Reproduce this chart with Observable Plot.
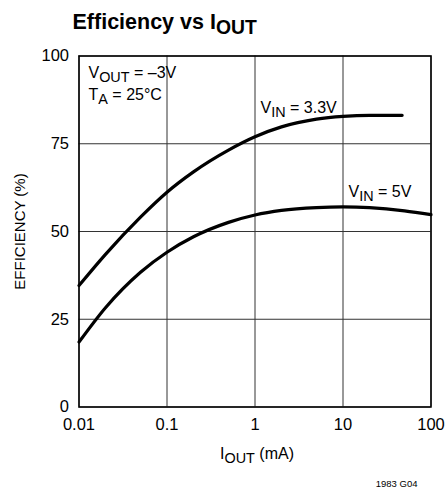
<!DOCTYPE html>
<html>
<head>
<meta charset="utf-8">
<script src="https://cdn.jsdelivr.net/npm/d3@7"></script>
<script src="https://cdn.jsdelivr.net/npm/@observablehq/plot@0.6"></script>
<style>
  html, body { margin: 0; padding: 0; background: white; }
</style>
</head>
<body>
<div id="chart"></div>
<script>
// ---- data ----
const ioutVin33 = [0.01, 0.02, 0.05, 0.1, 0.2, 0.5, 1, 2, 5, 10, 20, 47];
const effVin33  = [34.6, 43.5, 54.1, 61.2, 67.0, 73.2, 77.0, 79.8, 82.0, 82.8, 83.1, 83.1];
const ioutVin5  = [0.01, 0.02, 0.05, 0.1, 0.2, 0.5, 1, 2, 5, 10, 20, 50, 100];
const effVin5   = [18.5, 28.3, 38.4, 44.1, 48.5, 52.6, 54.7, 56.0, 56.8, 57.0, 56.8, 55.9, 54.8];
const seriesNames = ["V_{IN} = 3.3V", "V_{IN} = 5V"];
const xTicks = [0.01, 0.1, 1, 10, 100];
const xTickLabels = ["0.01", "0.1", "1", "10", "100"];
const yTicks = [0, 25, 50, 75, 100];
const titleText = "Efficiency vs I_{OUT}";
const xLabel = "I_{OUT} (mA)";
const yLabel = "EFFICIENCY (%)";
const noteLines = ["V_{OUT} = \u20133V", "T_{A} = 25\u00B0C"];
const caption = "1983 G04";

const rows = [
  ...ioutVin33.map((x, i) => ({series: seriesNames[0], x, y: effVin33[i]})),
  ...ioutVin5.map((x, i) => ({series: seriesNames[1], x, y: effVin5[i]}))
];

const FONT = '"Liberation Sans", Arial, Helvetica, sans-serif';

const chart = Plot.plot({
  width: 447,
  height: 488,
  marginLeft: 78.5,
  marginRight: 16.5,
  marginTop: 55.5,
  marginBottom: 81.5,
  x: {type: "log", domain: [0.01, 100]},
  y: {domain: [0, 100]},
  style: {fontFamily: FONT, fontSize: "16px", color: "black", background: "white", overflow: "visible"},
  marks: [
    Plot.gridX(xTicks, {stroke: "#333", strokeOpacity: 1, strokeWidth: 1}),
    Plot.gridY(yTicks, {stroke: "#333", strokeOpacity: 1, strokeWidth: 1}),
    Plot.frame({stroke: "black", strokeWidth: 1.5}),
    Plot.axisX(xTicks, {tickSize: 0, tickPadding: 11, tickFormat: d => xTickLabels[xTicks.indexOf(d)], label: null, fontSize: 16.5}),
    Plot.axisY(yTicks, {tickSize: 0, tickPadding: 10, label: null, fontSize: 16.5}),
    Plot.line(rows, {x: "x", y: "y", z: "series", curve: "monotone-x", stroke: "black", strokeWidth: 3.2}),
    // curve labels
    Plot.text([seriesNames[0]], {text: d => d, x: 1.155, y: 85.3, textAnchor: "start", lineAnchor: "middle", fontSize: 16}),
    Plot.text([seriesNames[1]], {text: d => d, x: 11.55, y: 61.4, textAnchor: "start", lineAnchor: "middle", fontSize: 16}),
    // conditions note
    Plot.text([noteLines[0]], {text: d => d, frameAnchor: "top-left", dx: 9.5, dy: 17, textAnchor: "start", lineAnchor: "middle", fontSize: 16}),
    Plot.text([noteLines[1]], {text: d => d, frameAnchor: "top-left", dx: 9.5, dy: 38.5, textAnchor: "start", lineAnchor: "middle", fontSize: 16}),
    // title
    Plot.text([titleText], {text: d => d, frameAnchor: "top-left", dx: -6.5, dy: -34, textAnchor: "start", lineAnchor: "middle", fontSize: 21.5, fontWeight: "bold"}),
    // axis titles
    Plot.text([xLabel], {text: d => d, frameAnchor: "bottom", dx: 2, dy: 47, textAnchor: "middle", lineAnchor: "middle", fontSize: 16}),
    Plot.text([yLabel], {text: d => d, frameAnchor: "left", dx: -58.5, rotate: -90, textAnchor: "middle", lineAnchor: "middle", fontSize: 15}),
    // caption
    Plot.text([caption], {text: d => d, frameAnchor: "bottom-right", dx: -13.5, dy: 76.5, textAnchor: "end", lineAnchor: "middle", fontSize: 9.5})
  ]
});

// turn "_{...}" into subscript tspans (text stays real text)
const SVGNS = "http://www.w3.org/2000/svg";
chart.querySelectorAll("text").forEach(t => {
  const nodes = t.querySelector("tspan") ? [...t.querySelectorAll("tspan")] : [t];
  nodes.forEach(n => {
    const s = n.textContent;
    if (!s.includes("_{")) return;
    n.textContent = "";
    let prevSub = false;
    s.split(/(_\{[^}]*\})/).forEach(p => {
      if (!p) return;
      const ts = document.createElementNS(SVGNS, "tspan");
      if (p.startsWith("_{")) {
        ts.textContent = p.slice(2, -1);
        ts.setAttribute("font-size", "0.9em");
        ts.setAttribute("dy", "0.28em");
        prevSub = true;
      } else {
        ts.textContent = p;
        if (prevSub) ts.setAttribute("dy", "-0.25em");
        prevSub = false;
      }
      n.appendChild(ts);
    });
  });
});

document.getElementById("chart").appendChild(chart);
</script>
</body>
</html>
